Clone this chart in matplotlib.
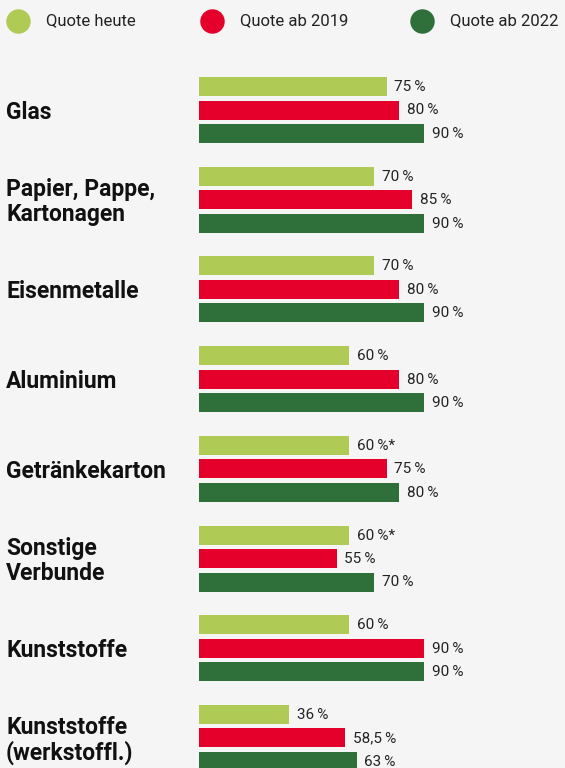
import matplotlib
matplotlib.use("Agg")
import matplotlib.pyplot as plt
from matplotlib.transforms import blended_transform_factory

plt.rcParams['font.family'] = ['Roboto', 'DejaVu Sans']

categories = ["Glas", "Papier, Pappe,\nKartonagen", "Eisenmetalle", "Aluminium",
              "Getränkekarton", "Sonstige\nVerbunde", "Kunststoffe", "Kunststoffe\n(werkstoffl.)"]
quote_heute = [75, 70, 70, 60, 60, 60, 60, 36]
quote_2019 = [80, 85, 80, 80, 75, 55, 90, 58.5]
quote_2022 = [90, 90, 90, 90, 80, 70, 90, 63]
labels_heute = ["75 %", "70 %", "70 %", "60 %", "60 %*", "60 %*", "60 %", "36 %"]
labels_2019 = ["80 %", "85 %", "80 %", "80 %", "75 %", "55 %", "90 %", "58,5 %"]
labels_2022 = ["90 %", "90 %", "90 %", "90 %", "80 %", "70 %", "90 %", "63 %"]
series_names = ["Quote heute", "Quote ab 2019", "Quote ab 2022"]
colors = ["#b0cb55", "#e4002b", "#2e6f3a"]
bg = "#f5f5f5"

W, H = 565, 768
fig = plt.figure(figsize=(W / 100, H / 100), dpi=100, facecolor=bg)
ax = fig.add_axes([0, 0, 1, 1])
ax.set_facecolor(bg)
px_per_unit = 2.5
x0 = 199
ax.set_xlim(-x0 / px_per_unit, (W - x0) / px_per_unit)
ax.set_ylim(H, 0)
ax.axis("off")

group_top = 77
group_pitch = 89.7
bar_pitch = 23.5
bar_h = 19

series = [quote_heute, quote_2019, quote_2022]
slabels = [labels_heute, labels_2019, labels_2022]
trans_lab = blended_transform_factory(ax.transAxes, ax.transData)
for g, cat in enumerate(categories):
    top = group_top + g * group_pitch
    for k in range(3):
        yc = top + bar_h / 2 + k * bar_pitch
        v = series[k][g]
        ax.barh(yc, v, height=bar_h, color=colors[k], left=0)
        ax.text(v + 8 / px_per_unit, yc + 0.5, slabels[k][g].replace(" ", "\u2009"),
                va="center", ha="left", fontsize=11, color="#222222")
    ax.text(6 / W, top + bar_h / 2 + bar_pitch + 2.5, cat, transform=trans_lab,
            va="center", ha="left", fontsize=16.5, fontweight="bold", color="#111111",
            linespacing=1.1)

# legend
leg_x = [18, 212, 422]
for i, name in enumerate(series_names):
    ax.scatter([leg_x[i] / W], [1 - 21 / H], s=310, color=colors[i], transform=ax.transAxes,
               clip_on=False, linewidths=0)
    ax.text((leg_x[i] + 28) / W, 1 - 21 / H, name, transform=ax.transAxes,
            va="center", ha="left", fontsize=12, color="#222222")

fig.savefig("out.png", dpi=100, facecolor=bg)
